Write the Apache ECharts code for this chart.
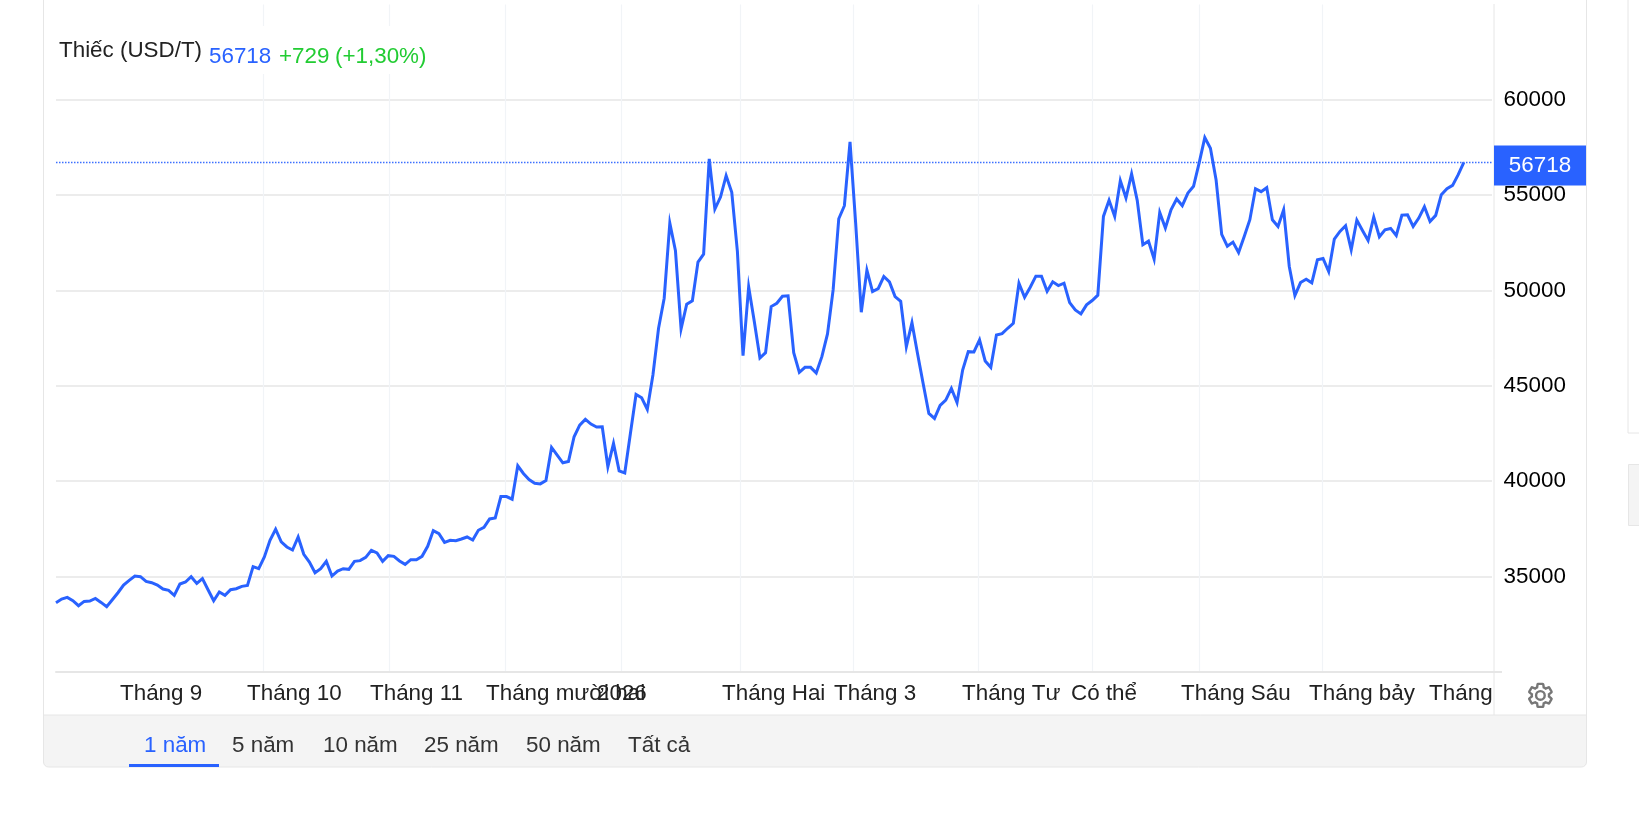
<!DOCTYPE html>
<html><head><meta charset="utf-8">
<script src="https://cdn.jsdelivr.net/npm/echarts@6/dist/echarts.min.js"></script>
<style>html,body{margin:0;padding:0;background:#fff}#c{width:1639px;height:825px}</style>
</head><body><div id="c"></div>
<script>
const prices = [
33618,33810,33898,33723,33460,33688,33705,33845,33635,33407,33775,34143,34546,34791,35019,34984,34739,34669,34546,34336,
34266,34003,34598,34704,34984,34634,34879,34301,33723,34178,34003,34300,34353,34476,34528,35509,35404,36017,36893,37472,
36806,36543,36385,37069,36158,35755,35194,35404,35790,35019,35282,35404,35369,35790,35825,36000,36368,36228,35790,36087,
36052,35807,35632,35876,35876,36052,36577,37401,37243,36787,36893,36875,36963,37068,36910,37418,37576,38014,38066,39188,
39188,39048,40800,40397,40081,39888,39853,40029,41763,41360,40957,41027,42324,42937,43235,42990,42832,42849,40747,41973,
40537,40430,42496,44546,44371,43758,45563,48015,49592,53534,52080,47980,49277,49452,51484,51905,56898,54270,54901,56022,
55146,52045,46579,50188,48365,46456,46736,49154,49329,49697,49715,46736,45702,45965,45965,45667,46526,47717,50029,53761,
54444,57791,53533,48855,51063,49942,50099,50730,50450,49679,49434,47051,48312,46665,45089,43547,43284,43967,44248,44861,
44125,45825,46788,46771,47402,46299,45966,47665,47735,48015,48278,50380,49645,50170,50748,50748,49960,50451,50258,50380,
49364,48979,48769,49242,49470,49750,53885,54725,53885,55759,54848,56110,54725,52395,52587,51641,54094,53271,54234,54795,
54444,55110,55461,56687,58019,57458,55811,52938,52324,52535,51992,52832,53709,55338,55180,55391,53709,53358,54234,51256,
49732,50415,50590,50397,51606,51676,50993,52693,53096,53393,52132,53691,53148,52622,53849,52815,53183,53253,52885,53954,
53972,53358,53796,54392,53621,53937,55023,55338,55513,56074,56718
];
const lastPrice = 56718;
const monthLabels = ['Tháng 9','Tháng 10','Tháng 11','Tháng mười hai','2026','Tháng Hai','Tháng 3','Tháng Tư','Có thể','Tháng Sáu','Tháng bảy','Tháng'];
const monthGridAt = [14.74,36.87,59.24,79.74,100.3,121.58,141.63,163.74,183.98,202.93,224.83,247.13];
const monthLabelAt = [11.37,33.92,55.76,76.36,96.07,118.27,138.16,160.89,180.25,199.79,222.52,243.83];
const rangeTabs = [['1 năm',144],['5 năm',232],['10 năm',323],['25 năm',424],['50 năm',526],['Tất cả',628]];
const FONT = '"Liberation Sans", Arial, sans-serif';
const BLUE = '#2962ff';
const GEAR = 'M19.14 12.94c.04-.3.06-.61.06-.94 0-.32-.02-.64-.07-.94l2.03-1.58a.49.49 0 0 0 .12-.61l-1.92-3.32a.488.488 0 0 0-.59-.22l-2.39.96c-.5-.38-1.03-.7-1.62-.94l-.36-2.54a.484.484 0 0 0-.48-.41h-3.84c-.24 0-.43.17-.47.41l-.36 2.54c-.59.24-1.13.57-1.62.94l-2.39-.96c-.22-.08-.47 0-.59.22L2.74 8.87c-.12.21-.08.47.12.61l2.03 1.58c-.05.3-.09.63-.09.94s.02.64.07.94l-2.03 1.58a.49.49 0 0 0-.12.61l1.92 3.32c.12.22.37.29.59.22l2.39-.96c.5.38 1.03.7 1.62.94l.36 2.54c.05.24.24.41.48.41h3.84c.24 0 .44-.17.47-.41l.36-2.54c.59-.24 1.13-.56 1.62-.94l2.39.96c.22.08.47 0 .59-.22l1.92-3.32c.12-.22.07-.47-.12-.61l-2.01-1.58zM12 15.6c-1.98 0-3.6-1.62-3.6-3.6s1.62-3.6 3.6-3.6 3.6 1.62 3.6 3.6-1.62 3.6-3.6 3.6z';
echarts.graphic.registerShape('gearIcon', echarts.graphic.extendPath(GEAR, {}));
const text = (x,y,t,fill,extra={}) => ({type:'text',x,y,z:30,silent:true,style:Object.assign({text:t,fill,font:'22.4px '+FONT,textVerticalAlign:'middle'},extra)});
const line = (x1,y1,x2,y2,stroke='#e6e6e6',lineWidth=1) => ({type:'line',z:5,silent:true,shape:{x1,y1,x2,y2},style:{stroke,lineWidth}});
const chart = echarts.init(document.getElementById('c'),null,{renderer:'canvas'});
chart.setOption({
  animation:false,
  backgroundColor:'#fff',
  grid:{left:56,right:147,top:4.5,bottom:153.3,containLabel:false},
  xAxis:{type:'value',min:0,max:255,
    axisLine:{show:true,lineStyle:{color:'#e6e6e6',width:2}},
    axisTick:{show:false,customValues:monthGridAt},
    splitLine:{show:true,showMinLine:false,showMaxLine:false,lineStyle:{color:'#f1f4f7',width:1.2}},
    axisLabel:{customValues:monthLabelAt,align:'left',margin:11,color:'#222',fontSize:22.4,fontFamily:'Liberation Sans',
      hideOverlap:false,
      formatter:v=>monthLabels[monthLabelAt.indexOf(v)]}
  },
  yAxis:{type:'value',position:'right',min:30000,max:65000,interval:5000,
    axisLine:{show:false},axisTick:{show:false},
    splitLine:{show:true,showMinLine:false,showMaxLine:false,lineStyle:{color:'#e6e6e6',width:1.5}},
    axisLabel:{margin:11.6,align:'left',color:'#000',fontSize:22.4,fontFamily:'Liberation Sans',showMinLabel:false,showMaxLabel:false,padding:[0,0,6,0],formatter:v=>String(v)}
  },
  series:[{type:'line',data:prices.map((v,i)=>[i,v]),showSymbol:false,symbol:'none',smooth:false,
    lineStyle:{color:BLUE,width:3,join:'miter'},z:3,
    markLine:{silent:true,symbol:'none',animation:false,
      lineStyle:{color:'#3d70ff',type:[1.5,1.5],width:1.3},
      label:{show:true,position:'end',distance:2,formatter:String(lastPrice),color:'#fff',fontSize:22.4,fontFamily:'Liberation Sans',
        backgroundColor:BLUE,width:92,height:40,lineHeight:40,align:'center',offset:[46,3]},
      data:[{yAxis:lastPrice}]}
  }],
  graphic:[
    {type:'rect',z:10,silent:true,shape:{x:56,y:26,width:380,height:48},style:{fill:'#fff'}},
    line(43.5,0,43.5,762),
    line(1586.5,0,1586.5,762),
    line(1494,4,1494,715),
    line(1492,672,1502,672,'#e6e6e6',2),
    {type:'rect',z:4,silent:true,shape:{x:43.5,y:715,width:1543,height:52,r:[0,0,5,5]},style:{fill:'#f4f4f4',stroke:'#e6e6e6',lineWidth:1}},
    line(1628,0,1628,433),line(1628,433,1639,433),
    {type:'rect',z:4,silent:true,shape:{x:1628.5,y:464.5,width:20,height:61},style:{fill:'#f4f4f4',stroke:'#e6e6e6',lineWidth:1}},
    text(59,51,'Thiếc (USD/T)','#222'),
    text(209,57,String(lastPrice),'#2962ff'),
    text(279,57,'+729','#22cc33'),
    text(335,57,'(+1,30%)','#22cc33'),
    ...rangeTabs.map((t,i)=>text(t[1],746,t[0],i===0?BLUE:'#333')),
    {type:'rect',z:30,silent:true,shape:{x:129,y:764,width:90,height:3},style:{fill:BLUE}},
    {type:'gearIcon',z:30,silent:true,x:1526,y:681,scaleX:1.2,scaleY:1.2,
      style:{fill:'none',stroke:'#777',lineWidth:2}}
  ]
});
</script></body></html>
